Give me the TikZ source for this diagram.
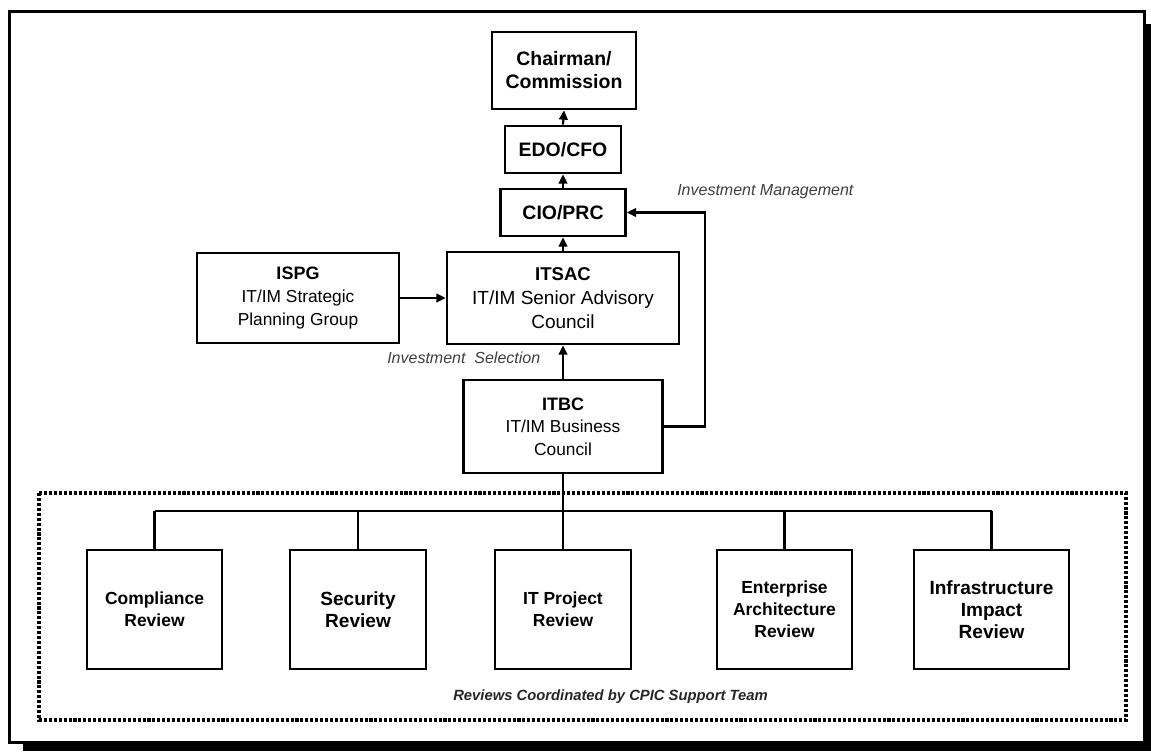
\documentclass[tikz,border=0pt]{standalone}
\usepackage{fontspec}
\setmainfont{Liberation Sans}
\usetikzlibrary{arrows.meta}

\begin{document}
\begin{tikzpicture}[x=0.75pt,y=-0.75pt,
  box/.style={draw, line width=2pt, align=center, inner sep=0pt, fill=white},
  wh/.style 2 args={minimum width=#1*0.75pt, minimum height=#2*0.75pt},
  link/.style={line width=1.6pt},
  up/.style={link, -{Triangle[length=7pt,width=6.5pt]}},
  note/.style={font=\fontsize{12}{14}\selectfont\itshape, text=black!75, inner sep=0pt}]
\useasboundingbox (0,0) rectangle (1151,751);

% Frame with shadow
\fill (23,24) rectangle (1151,751);
\draw[line width=2.8pt, fill=white] (9.5,11.5) rectangle (1144.5,742.5);

% Reviews area
\draw[line width=2.3pt, dash pattern=on 2.3pt off 1.4pt] (39,493) rectangle (1126,720);

% Upper chain
\node[box, wh={144}{77}, font=\bfseries\fontsize{14.6}{17.3}\selectfont] (chair) at (564,70.5) {Chairman/\\Commission};
\node[box, wh={116}{47}, font=\bfseries\fontsize{14.6}{17.3}\selectfont] (edo) at (563,149.5) {EDO/CFO};
\node[box, wh={125}{47}, font=\bfseries\fontsize{14.6}{17.3}\selectfont] (cio) at (563,212.5) {CIO/PRC};

% Councils
\node[box, wh={232}{92}, font=\fontsize{14.25}{18}\selectfont] (itsac) at (563,298)
  {{\bfseries\fontsize{13.9}{18}\selectfont ITSAC}\\IT/IM Senior Advisory\\Council};
\node[box, wh={202}{90}, font=\fontsize{13}{17}\selectfont] (ispg) at (298,298)
  {{\bfseries\fontsize{13.5}{17}\selectfont ISPG}\\IT/IM Strategic\\Planning Group};
\node[box, wh={199}{93}, font=\fontsize{13}{17}\selectfont] (itbc) at (563,426.5)
  {{\bfseries\fontsize{13.5}{17}\selectfont ITBC}\\IT/IM Business\\Council};

% Reviews
\node[box, wh={135}{119}, font=\bfseries\fontsize{13.1}{16.5}\selectfont] (comp) at (154.5,609.5) {Compliance\\Review};
\node[box, wh={136}{119}, font=\bfseries\fontsize{14.3}{16.5}\selectfont] (sec) at (358,609.5) {Security\\Review};
\node[box, wh={136}{119}, font=\bfseries\fontsize{13.1}{16.5}\selectfont] (itp) at (563,609.5) {IT Project\\Review};
\node[box, wh={135}{119}, font=\bfseries\fontsize{13.1}{16.5}\selectfont] (ea) at (784.5,609.5) {Enterprise\\Architecture\\Review};
\node[box, wh={155}{119}, font=\bfseries\fontsize{14.3}{16.5}\selectfont] (infra) at (991.5,609.5) {Infrastructure\\Impact\\Review};

% Labels
\node[note, anchor=west] (mgmt) at (677,192) {Investment Management};
\node[note, anchor=west] (sel) at (387,358) {Investment\ \ Selection};
\node[anchor=west, inner sep=0pt, text=black!85, font=\bfseries\itshape\fontsize{11.1}{13}\selectfont] (cap) at (453,697) {Reviews Coordinated by CPIC Support Team};

% Arrows
\draw[up] (edo.north) -- (chair.south);
\draw[up] (cio.north) -- (edo.south);
\draw[up] (itsac.north) -- (cio.south);
\draw[up] (ispg.east) -- (itsac.west);
\draw[up] (itbc.north) -- (itsac.south);
\draw[up] (itbc.east) -- ++(41,0) |- (cio.east);

% Tree to reviews
\coordinate (bus) at (563,511);
\draw[link] (itbc.south) -- (itp.north);
\draw[link] (bus -| comp.north) -- (bus -| infra.north);
\foreach \r in {comp,sec,ea,infra}
  \draw[link] (bus -| \r.north) -- (\r.north);
\end{tikzpicture}
\end{document}
